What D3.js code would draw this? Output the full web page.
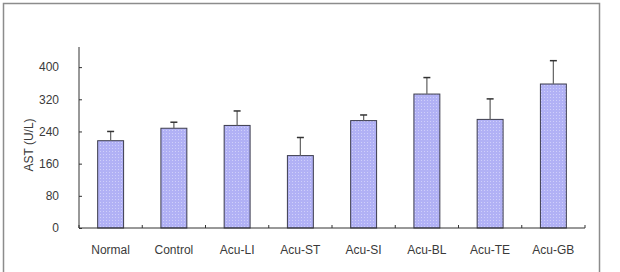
<!DOCTYPE html>
<html>
<head>
<meta charset="utf-8">
<script src="https://cdn.jsdelivr.net/npm/d3@7"></script>
<style>
  body { margin: 0; background: #fff; }
  svg { display: block; font-family: Arial, "Liberation Sans", sans-serif; }
</style>
</head>
<body>
<svg id="chart" width="620" height="272"></svg>
<script>
const groups = ["Normal", "Control", "Acu-LI", "Acu-ST", "Acu-SI", "Acu-BL", "Acu-TE", "Acu-GB"];
const means  = [217, 248, 255, 180, 267, 333, 270, 358];
const errors = [23, 15, 36, 45, 14, 41, 51, 58];
const yTicks = [0, 80, 160, 240, 320, 400];

const svg = d3.select("#chart");

// outer frame
svg.append("rect")
  .attr("x", 3.5).attr("y", 3.5)
  .attr("width", 596).attr("height", 280)
  .attr("fill", "none")
  .attr("stroke", "#8c8c8c")
  .attr("stroke-width", 1.5);

const x = d3.scaleBand()
  .domain(groups)
  .range([79, 585])
  .paddingInner(0.59)
  .paddingOuter(0.295);

const y = d3.scaleLinear()
  .domain([0, 450])
  .range([228, 47]);

// dotted fill like the old spreadsheet pattern
const defs = svg.append("defs");
const pat = defs.append("pattern")
  .attr("id", "dots")
  .attr("width", 3).attr("height", 3)
  .attr("patternUnits", "userSpaceOnUse");
pat.append("rect").attr("width", 3).attr("height", 3).attr("fill", "#b1b1f5");
pat.append("rect").attr("x", 1).attr("y", 1).attr("width", 1).attr("height", 1).attr("fill", "#cfcffa");

// bars
svg.selectAll(".bar")
  .data(groups)
  .enter()
  .append("rect")
  .attr("class", "bar")
  .attr("x", d => x(d))
  .attr("y", (d, i) => y(means[i]))
  .attr("width", x.bandwidth())
  .attr("height", (d, i) => y(0) - y(means[i]))
  .attr("fill", "url(#dots)")
  .attr("stroke", "#3c3c4c")
  .attr("stroke-width", 1);

// error bars (upper only)
const eb = svg.selectAll(".err")
  .data(groups)
  .enter()
  .append("g")
  .attr("class", "err");

eb.append("line")
  .attr("x1", d => x(d) + x.bandwidth() / 2)
  .attr("x2", d => x(d) + x.bandwidth() / 2)
  .attr("y1", (d, i) => y(means[i]))
  .attr("y2", (d, i) => y(means[i] + errors[i]))
  .attr("stroke", "#6a6a6a")
  .attr("stroke-width", 1.3);

eb.append("line")
  .attr("x1", d => x(d) + x.bandwidth() / 2 - 3.5)
  .attr("x2", d => x(d) + x.bandwidth() / 2 + 3.5)
  .attr("y1", (d, i) => y(means[i] + errors[i]))
  .attr("y2", (d, i) => y(means[i] + errors[i]))
  .attr("stroke", "#333")
  .attr("stroke-width", 1.5);

// y axis: inward ticks
const yAxis = svg.append("g")
  .attr("transform", "translate(79,0)")
  .call(d3.axisRight(y).tickValues(yTicks).tickSize(3).tickFormat(""));
yAxis.select(".domain").attr("d", `M0,${y(450)}V${y(0)}`).attr("stroke", "#333");
yAxis.selectAll(".tick line").attr("stroke", "#333");

svg.selectAll(".ylab")
  .data(yTicks)
  .enter()
  .append("text")
  .attr("class", "ylab")
  .attr("x", 59)
  .attr("y", d => y(d))
  .attr("dy", "0.36em")
  .attr("text-anchor", "end")
  .style("font-size", "12px")
  .style("fill", "#3a3a3a")
  .text(d => d);

// x axis: ticks between categories pointing up
const bounds = groups.map(g => x(g) - x.step() * x.paddingInner() / 2).concat([585]);
svg.append("line")
  .attr("x1", 79).attr("x2", 585)
  .attr("y1", y(0)).attr("y2", y(0))
  .attr("stroke", "#333");
svg.selectAll(".xtick")
  .data(bounds)
  .enter()
  .append("line")
  .attr("x1", d => d).attr("x2", d => d)
  .attr("y1", y(0)).attr("y2", y(0) - 3)
  .attr("stroke", "#333");

svg.selectAll(".xlab")
  .data(groups)
  .enter()
  .append("text")
  .attr("x", d => x(d) + x.bandwidth() / 2)
  .attr("y", 254)
  .attr("text-anchor", "middle")
  .style("font-size", "12px")
  .style("fill", "#3a3a3a")
  .text(d => d);

// y title
svg.append("text")
  .attr("transform", "translate(33,145) rotate(-90)")
  .attr("text-anchor", "middle")
  .style("font-size", "12px")
  .style("fill", "#3a3a3a")
  .text("AST (U/L)");
</script>
</body>
</html>
